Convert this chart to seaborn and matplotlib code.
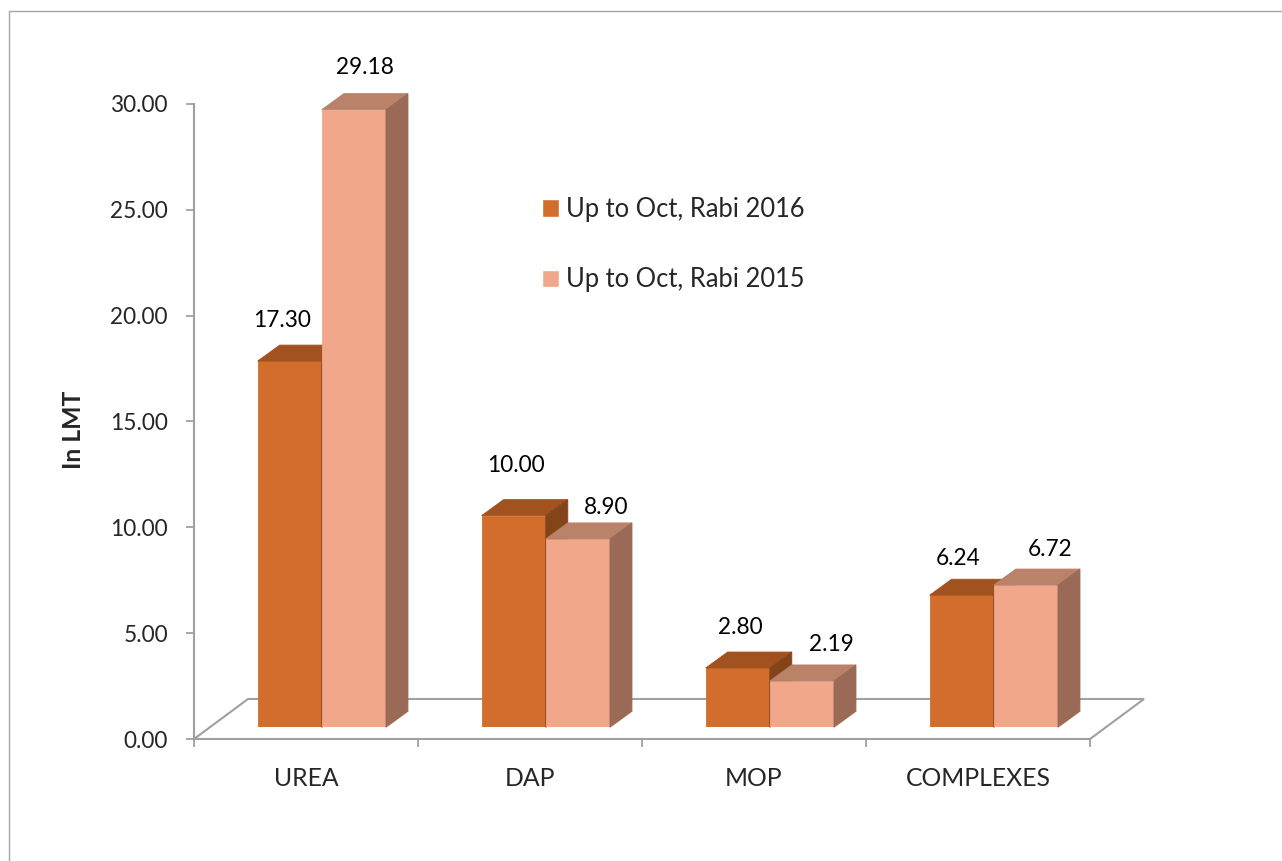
import numpy as np
import pandas as pd
import matplotlib.pyplot as plt
import matplotlib.colors as mcolors
import seaborn as sns
from matplotlib.patches import Polygon
from matplotlib.lines import Line2D

products = ['UREA', 'DAP', 'MOP', 'COMPLEXES']
seasons = ['Up to Oct, Rabi 2016', 'Up to Oct, Rabi 2015']
rabi_2016 = [17.30, 10.00, 2.80, 6.24]
rabi_2015 = [29.18, 8.90, 2.19, 6.72]
y_ticks = [0, 5, 10, 15, 20, 25, 30]

# small nudges (pixels) for the value labels, like Excel placed them
label_dx = {seasons[0]: [-8, 2, 3, -4], seasons[1]: [11, 28, 29, 24]}
label_dy = {seasons[0]: [34, 44, 34, 30], seasons[1]: [36, 25, 30, 29]}

df = pd.DataFrame({
    'product': products * 2,
    'season': [seasons[0]] * len(products) + [seasons[1]] * len(products),
    'value': rabi_2016 + rabi_2015,
})

front_colors = {seasons[0]: '#D36D2B', seasons[1]: '#F0A78A'}
top_colors = {seasons[0]: '#A1521F', seasons[1]: '#B98269'}
side_colors = {seasons[0]: '#83441A', seasons[1]: '#9A6A57'}
grey = '#A0A0A0'

sns.set_style('white')
plt.rcParams['font.family'] = ['Lato', 'DejaVu Sans']
fs = 16.3        # numbers
fs_text = 17.8   # words (Lato letters run narrower than Calibri)

W, H = 1282, 861
fig = plt.figure(figsize=(W / 100, H / 100), dpi=100)

# pixel geometry of the fake 3D box
x0, x1 = 194, 1090      # floor front edge
y0, y30 = 739, 104      # value 0 and 30 on the axis
front_dx, front_dy = 15.8, 11.7   # bars sit a little behind the front edge
floor_dx, floor_dy = 54, 40       # full floor depth
bar_dx, bar_dy = 22, 16           # depth of each bar


def px_box(l, r, b, t):
    return [l / W, (H - b) / H, (r - l) / W, (b - t) / H]


ax_back = fig.add_axes(px_box(x0, x1, y0, y30))
ax = fig.add_axes(px_box(x0 + front_dx, x1 + front_dx, y0 - front_dy, y30 - front_dy))
ax.set_zorder(ax_back.get_zorder() + 1)
ax.patch.set_visible(False)

px_x = (x1 - x0) / len(products)
px_y = (y0 - y30) / 30

# axis frame + floor
ax_back.set_xlim(-0.5, 3.5)
ax_back.set_ylim(0, 30)
ax_back.set_yticks(y_ticks, [f'{t:.2f}' for t in y_ticks])
ax_back.set_xticks(range(len(products)), products)
ax_back.set_xticks([-0.5, 0.5, 1.5, 2.5, 3.5], minor=True)
ax_back.tick_params(axis='y', length=5.8, width=1.3, color=grey, pad=13,
                    labelsize=fs, direction='out', left=True)
ax_back.tick_params(axis='x', which='major', length=0, pad=20, labelsize=fs_text)
ax_back.tick_params(axis='x', which='minor', length=5.8, width=1.3, color=grey,
                    direction='out', bottom=True)
for side in ['top', 'right']:
    ax_back.spines[side].set_visible(False)
for side in ['left', 'bottom']:
    ax_back.spines[side].set_color(grey)
    ax_back.spines[side].set_linewidth(1.5)
fdx, fdy = floor_dx / px_x, floor_dy / px_y
ax_back.plot([-0.5, -0.5 + fdx, 3.5 + fdx, 3.5], [0, fdy, fdy, 0],
             color=grey, lw=1.5, clip_on=False, solid_joinstyle='miter')

# front faces of the bars
sns.barplot(data=df, x='product', y='value', hue='season', order=products,
            hue_order=seasons, palette=front_colors, width=0.573, saturation=1,
            errorbar=None, ax=ax)
ax.set_xlim(-0.5, 3.5)
ax.set_ylim(0, 30)

hex_to_season = {mcolors.to_hex(c): s for s, c in front_colors.items()}
bars = [p for p in ax.patches if p.get_height() > 0]
bars.sort(key=lambda p: p.get_x())

ddx, ddy = bar_dx / px_x, bar_dy / px_y
count = {s: 0 for s in seasons}
for i, bar in enumerate(bars):
    season = hex_to_season[mcolors.to_hex(bar.get_facecolor())]
    bx, bw, bh = bar.get_x(), bar.get_width(), bar.get_height()
    z = 10 + 3 * i
    bar.set_zorder(z)
    bar.set_edgecolor(front_colors[season])
    bar.set_linewidth(0.6)
    top = Polygon([(bx, bh), (bx + bw, bh), (bx + bw + ddx, bh + ddy), (bx + ddx, bh + ddy)],
                  closed=True, facecolor=top_colors[season], edgecolor=top_colors[season],
                  lw=0.6, zorder=z + 1, clip_on=False)
    side = Polygon([(bx + bw, 0), (bx + bw + ddx, ddy), (bx + bw + ddx, bh + ddy), (bx + bw, bh)],
                   closed=True, facecolor=side_colors[season], edgecolor=side_colors[season],
                   lw=0.6, zorder=z + 1, clip_on=False)
    ax.add_patch(top)
    ax.add_patch(side)

    k = count[season]
    count[season] += 1
    ax.annotate(f'{bh:.2f}', xy=(bx + bw / 2, bh),
                xytext=(label_dx[season][k], label_dy[season][k]),
                textcoords='offset pixels', ha='center', va='baseline',
                fontsize=fs, color='black', zorder=100, annotation_clip=False)

ax.axis('off')

sns.move_legend(ax, 'upper left', bbox_to_anchor=(542 / W, 1 - 197 / H),
                bbox_transform=fig.transFigure, frameon=False, title=None,
                fontsize=18.4, handlelength=0.65, handleheight=0.65,
                handletextpad=0.3, labelspacing=1.78, borderpad=0, borderaxespad=0)

fig.text(73.4 / W, 1 - 430 / H, 'In LMT', rotation=90, ha='center', va='center',
         fontsize=fs_text, fontweight='bold')

# chart area border (only left and top show in the crop)
fig.add_artist(Line2D([9 / W, 9 / W], [0, 1 - 11 / H], transform=fig.transFigure,
                      color='#A6A6A6', lw=1))
fig.add_artist(Line2D([9 / W, 1], [1 - 11 / H, 1 - 11 / H], transform=fig.transFigure,
                      color='#A6A6A6', lw=1))

fig.savefig('out.png', dpi=100)
